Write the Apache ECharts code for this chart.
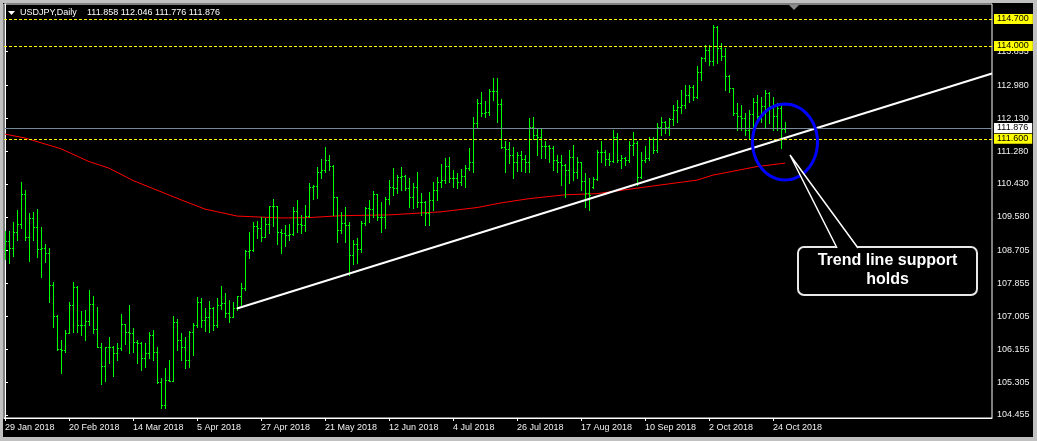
<!DOCTYPE html>
<html><head><meta charset="utf-8">
<script src="https://cdn.jsdelivr.net/npm/echarts@6/dist/echarts.min.js"></script>
<style>html,body{margin:0;padding:0;background:#000}#c{width:1037px;height:441px}</style>
</head><body><div id="c"></div>
<script>
// ---- data (USDJPY daily, 29 Jan 2018 .. 29 Oct 2018), bar index = trading day ----
const opens = [108.75,108.96,108.77,109.18,109.39,110.17,109.05,109.54,109.31,108.75,
108.77,108.65,107.81,107.01,106.16,106.13,106.58,107.30,107.76,106.77,
106.78,106.89,107.32,106.67,106.22,105.72,106.20,106.22,106.05,106.18,
106.80,106.61,106.57,106.35,106.31,105.92,106.05,106.52,106.07,105.30,
104.70,105.36,105.33,106.87,106.39,106.22,105.88,106.59,106.78,107.37,
106.91,107.00,107.21,106.77,107.30,107.36,107.10,107.00,107.23,107.52,
107.73,108.70,108.72,109.35,109.30,109.07,109.39,109.85,109.85,109.20,
109.15,109.11,109.14,109.73,109.39,109.37,109.61,110.36,110.39,110.73,
110.79,111.05,110.90,110.09,109.24,109.43,109.37,108.59,108.89,108.76,
109.43,109.82,109.77,110.16,109.58,109.58,110.03,110.36,110.32,110.62,
110.64,110.32,110.09,110.36,109.97,109.97,109.67,110.02,110.27,110.49,
110.53,110.90,110.59,110.58,110.47,110.64,110.84,111.01,112.00,112.52,
112.26,112.28,112.84,112.84,112.49,111.39,111.33,111.18,111.00,111.18,
111.07,111.01,111.90,111.70,111.65,111.40,111.40,111.37,111.05,111.01,
110.92,110.79,111.14,110.75,111.00,110.50,110.20,110.35,110.56,111.27,
111.27,111.07,111.03,111.65,111.05,111.09,111.05,111.44,111.50,110.60,
111.05,111.09,111.60,111.30,111.91,112.03,111.90,112.10,112.34,112.43,
112.47,112.73,112.95,112.69,113.34,113.68,113.90,113.62,114.50,113.95,
113.75,113.22,112.92,112.26,112.20,112.15,111.83,112.23,112.55,112.20,
112.45,112.78,112.45,112.20,112.40,111.858];
const highs = [109.21,109.21,109.44,109.76,110.47,110.28,109.69,109.70,109.78,109.31,
108.88,108.77,107.89,107.05,106.39,106.64,107.37,107.89,107.78,107.14,
107.17,107.69,107.54,107.24,106.31,106.22,106.48,106.25,106.31,107.07,
106.82,107.30,106.70,106.39,106.35,106.31,106.61,106.64,106.22,105.40,
105.66,105.88,107.02,106.94,106.57,106.48,106.62,106.83,107.50,107.47,
107.21,107.39,107.26,107.47,107.79,107.60,107.43,107.37,107.54,107.86,
108.72,109.20,109.44,109.46,109.57,109.56,109.87,110.04,109.87,109.27,
109.37,109.39,109.83,110.01,109.63,109.89,110.45,110.40,110.86,111.07,
111.38,111.18,110.92,110.10,109.71,109.84,109.45,108.98,109.02,109.48,
109.84,110.01,110.26,110.17,109.97,110.10,110.53,110.84,110.66,110.88,
110.66,110.58,110.45,110.75,110.19,110.00,110.23,110.49,110.62,110.94,
111.09,111.12,110.79,110.72,110.81,110.92,111.35,112.17,112.62,112.82,
112.58,112.90,113.16,113.16,112.62,111.54,111.52,111.39,111.27,111.28,
111.18,112.15,112.17,111.87,111.84,111.54,111.44,111.40,111.18,111.18,
110.95,111.31,111.44,111.14,111.01,110.71,110.58,110.62,111.31,111.53,
111.31,111.22,111.83,111.74,111.18,111.14,111.53,111.77,111.53,111.27,
111.40,111.65,111.65,112.00,112.17,112.06,112.15,112.47,112.60,112.86,
112.99,112.99,112.99,113.47,113.72,114.03,114.03,114.54,114.53,114.07,
113.94,113.25,112.92,112.52,112.47,112.26,112.34,112.65,112.73,112.69,
112.86,112.82,112.69,112.52,112.48,112.046];
const lows = [108.48,108.39,108.57,108.98,109.28,108.98,108.45,108.98,108.53,108.03,
108.40,107.37,106.72,106.13,105.55,106.09,106.57,106.59,106.59,106.51,
106.39,106.78,106.57,106.22,105.25,105.33,105.79,105.45,105.88,106.13,
106.29,106.05,106.07,105.79,105.62,105.70,105.92,105.88,105.27,104.63,
104.63,105.32,105.32,106.13,105.88,105.66,105.70,106.00,106.74,106.74,
106.63,106.61,106.65,106.74,107.19,107.00,106.87,107.00,107.17,107.26,
107.69,108.51,108.70,109.02,108.95,109.07,109.15,109.33,108.89,108.64,
108.83,108.98,109.10,109.18,109.15,109.22,109.58,110.03,110.06,110.59,
110.75,110.79,109.63,108.94,109.15,108.94,108.08,108.35,108.38,108.68,
109.37,109.45,109.58,109.50,109.20,109.28,109.90,110.15,110.19,110.27,
110.27,109.84,109.80,109.83,109.63,109.37,109.37,109.76,110.01,110.36,
110.45,110.49,110.36,110.32,110.40,110.34,110.79,110.75,111.90,112.19,
112.17,112.21,112.60,112.04,111.35,110.75,110.96,110.58,110.77,110.77,
110.75,110.75,111.60,111.18,111.09,111.09,111.01,110.79,110.75,110.40,
110.10,110.45,110.53,110.58,110.27,109.84,109.76,110.32,110.53,111.01,
110.92,110.92,111.01,111.01,110.84,110.92,111.01,111.18,110.40,110.58,
111.01,111.05,111.22,111.27,111.70,111.74,111.70,111.96,112.04,112.26,
112.39,112.56,112.60,112.65,113.12,113.60,113.51,113.51,113.55,113.64,
112.86,112.82,112.22,111.83,111.83,111.70,111.61,111.87,112.00,112.04,
111.91,112.00,111.83,111.83,111.37,111.776];
const closes = [108.96,108.77,109.18,109.39,110.17,109.05,109.54,109.31,108.75,108.77,
108.65,107.81,107.01,106.16,106.13,106.58,107.30,107.76,106.77,106.78,
106.89,107.32,106.67,106.22,105.72,106.20,106.22,106.05,106.18,106.80,
106.61,106.57,106.35,106.31,105.92,106.05,106.52,106.07,105.30,104.70,
105.36,105.33,106.87,106.39,106.22,105.88,106.59,106.78,107.37,106.91,
107.00,107.21,106.77,107.30,107.36,107.10,107.00,107.23,107.52,107.73,
108.70,108.72,109.35,109.30,109.07,109.39,109.85,109.85,109.20,109.15,
109.11,109.14,109.73,109.39,109.37,109.61,110.36,110.39,110.73,110.79,
111.05,110.90,110.09,109.24,109.43,109.37,108.59,108.89,108.76,109.43,
109.82,109.77,110.16,109.58,109.58,110.03,110.36,110.32,110.62,110.64,
110.32,110.09,110.36,109.97,109.97,109.67,110.02,110.27,110.49,110.53,
110.90,110.59,110.58,110.47,110.64,110.84,111.01,112.00,112.52,112.26,
112.28,112.84,112.84,112.49,111.39,111.33,111.18,111.00,111.18,111.07,
111.01,111.90,111.70,111.65,111.40,111.40,111.37,111.05,111.01,110.92,
110.79,111.14,110.75,111.00,110.50,110.20,110.15,110.56,111.27,111.27,
111.07,111.03,111.65,111.05,111.09,111.05,111.44,111.50,110.60,111.05,
111.09,111.60,111.30,111.91,112.03,111.90,112.10,112.34,112.43,112.47,
112.73,112.95,112.69,113.34,113.68,113.90,113.62,114.50,113.95,113.75,
113.22,112.92,112.26,112.20,112.15,111.83,112.23,112.55,112.20,112.45,
112.78,112.45,112.20,112.40,111.86,111.876];

// moving average (red) read at selected bars
const maIndex  = [0,5,14,21,26,32,38,44,50,58,69,76,84,96,109,118,124,131,140,148,160,173,177,188,195];
const maValues = [111.72,111.62,111.34,111.01,110.84,110.52,110.27,110.02,109.78,109.60,109.55,109.56,109.61,109.63,109.71,109.82,109.94,110.05,110.15,110.18,110.35,110.53,110.66,110.88,110.97];

// trend line (white)
const trendIndex  = [58, 246.75];
const trendValues = [107.21, 113.29];

// horizontal levels
const levelValues = [114.700, 114.000, 111.600];
const levelLabels = ['114.700', '114.000', '111.600'];
const bidValue = 111.876;
const bidLabel = '111.876';

// axis ticks
const xTickIndex  = [0,16,32,48,64,80,96,112,128,144,160,176,192];
const xTickLabels = ['29 Jan 2018','20 Feb 2018','14 Mar 2018','5 Apr 2018','27 Apr 2018','21 May 2018','12 Jun 2018','4 Jul 2018','26 Jul 2018','17 Aug 2018','10 Sep 2018','2 Oct 2018','24 Oct 2018'];
const yTickValues = [104.455,105.305,106.155,107.005,107.855,108.705,109.580,110.430,111.280,112.130,112.980,113.855];

const titleText = 'USDJPY,Daily';
const titleValues = '111.858 112.046 111.776 111.876';
const noteText = 'Trend line support\nholds';

// ---- build ----
const FONT = 'Liberation Sans';
const GREEN = '#00ff00';
const ohlc = opens.map((o, i) => [i, o, highs[i], lows[i], closes[i]]);
const ma = maIndex.map((x, k) => [x, maValues[k]]);
const trend = trendIndex.map((x, k) => [x, trendValues[k]]);

const chart = echarts.init(document.getElementById('c'), null, {renderer: 'canvas'});

function labelFor(color, text) {
  return {show: true, position: 'end', distance: 2, color: '#000', backgroundColor: color,
    padding: [1, 4, 0, 3], fontSize: 9, fontFamily: FONT, formatter: () => text};
}

const markData = levelValues.map((v, k) => ({yAxis: v, lineStyle: {color: '#ffff00', type: [3, 2], width: 1}, label: labelFor('#ffff00', levelLabels[k])}));
markData.push({yAxis: bidValue, lineStyle: {color: '#778899', type: 'solid', width: 1}, label: labelFor('#ffffff', bidLabel)});

// ellipse outline points (annotation)
const ell = [];
for (let k = 0; k < 72; k++) { const a = k / 72 * Math.PI * 2; ell.push([785 + 32.5 * Math.cos(a), 142 + 38 * Math.sin(a)]); }

function seg(x1, y1, x2, y2) {
  return {type: 'line', shape: {x1: x1, y1: y1, x2: x2, y2: y2},
    style: {stroke: GREEN, lineWidth: 1, fill: null, opacity: 1}, silent: true};
}

chart.setOption({
  animation: false,
  backgroundColor: '#000',
  grid: {left: 4, top: 4, right: 45, bottom: 23, show: true, borderColor: '#ffffff', borderWidth: 1, backgroundColor: '#000'},
  xAxis: {
    type: 'value', min: -0.25, max: 246.75, splitLine: {show: false},
    axisLine: {show: true, lineStyle: {color: '#ffffff', width: 1}},
    axisTick: {show: true, length: 3, lineStyle: {color: '#ffffff'}, customValues: xTickIndex},
    axisLabel: {show: true, customValues: xTickIndex, color: '#f0f0f0', fontSize: 9, fontFamily: FONT, align: 'left', margin: 5,
      formatter: v => xTickLabels[xTickIndex.indexOf(Math.round(v))] || ''}
  },
  yAxis: {
    type: 'value', position: 'right', min: 104.3752, max: 115.0867, scale: true, splitLine: {show: false},
    axisLine: {show: true, lineStyle: {color: '#ffffff', width: 1}},
    axisTick: {show: true, length: 3, lineStyle: {color: '#ffffff'}, customValues: yTickValues},
    axisLabel: {show: true, customValues: yTickValues, color: '#f0f0f0', fontSize: 9, fontFamily: FONT, margin: 5,
      formatter: v => v.toFixed(3)}
  },
  series: [
    {type: 'line', name: 'MA', data: ma, symbol: 'none', smooth: false, z: 2,
      lineStyle: {color: '#ff0000', width: 1}},
    {type: 'custom', name: 'USDJPY', data: ohlc, z: 3, itemStyle: {color: GREEN},
      encode: {x: 0, y: [1, 2, 3, 4]},
      renderItem: function (params, api) {
        const i = api.value(0);
        const pH = api.coord([i, api.value(2)]);
        const pL = api.coord([i, api.value(3)]);
        const pO = api.coord([i, api.value(1)]);
        const pC = api.coord([i, api.value(4)]);
        const x = Math.floor(pH[0]) + 0.5;
        const yH = Math.round(pH[1]), yL = Math.round(pL[1]) + 1;
        const yO = Math.round(pO[1]) + 0.5, yC = Math.round(pC[1]) + 0.5;
        return {type: 'group', children: [
          seg(x, yH, x, Math.max(yL, yH + 1)),
          seg(x - 1.5, yO, x - 0.5, yO),
          seg(x + 0.5, yC, x + 1.5, yC)
        ]};
      }},
    {type: 'line', name: 'Trend', data: trend, symbol: 'none', z: 4,
      lineStyle: {color: '#ffffff', width: 2},
      markLine: {silent: true, symbol: ['none', 'none'], data: markData}}
  ],
  graphic: [
    // outer frame
    {type: 'rect', shape: {x: 0, y: 0, width: 1037, height: 3}, style: {fill: '#c0c0c0'}, z: 100},
    {type: 'rect', shape: {x: 0, y: 0, width: 3, height: 441}, style: {fill: '#c0c0c0'}, z: 100},
    {type: 'rect', shape: {x: 1033, y: 0, width: 4, height: 441}, style: {fill: '#c0c0c0'}, z: 100},
    {type: 'rect', shape: {x: 0, y: 437, width: 1037, height: 4}, style: {fill: '#c0c0c0'}, z: 100},
    // header
    {type: 'polygon', shape: {points: [[8, 11], [15, 11], [11.5, 15]]}, style: {fill: '#ffffff'}, z: 100},
    {type: 'text', x: 20, y: 13, style: {text: titleText, fill: '#ffffff', font: '9px "Liberation Sans"', verticalAlign: 'middle'}, z: 100},
    {type: 'text', x: 87, y: 13, style: {text: titleValues, fill: '#ffffff', font: '9px "Liberation Sans"', verticalAlign: 'middle'}, z: 100},
    // chart shift marker
    {type: 'polygon', shape: {points: [[789, 5], [799, 5], [794, 10]]}, style: {fill: '#8a8a8a'}, z: 100},
    // blue ellipse
    {type: 'polygon', shape: {points: ell}, style: {fill: null, stroke: '#0000ff', lineWidth: 3}, z: 100},
    // callout
    {type: 'rect', shape: {x: 798, y: 247, width: 179, height: 48, r: 6}, style: {fill: '#000', stroke: '#e8e8e8', lineWidth: 2}, z: 100},
    {type: 'polygon', shape: {points: [[837, 249], [790, 155], [858, 249]]}, style: {fill: '#000'}, z: 101},
    {type: 'polyline', shape: {points: [[837, 248], [790, 155], [858, 248]]}, style: {stroke: '#ffffff', lineWidth: 1.5, fill: null}, z: 102},
    {type: 'text', x: 887.5, y: 270, style: {text: noteText, fill: '#ffffff', font: 'bold 16px "Liberation Sans"', align: 'center', verticalAlign: 'middle', lineHeight: 19}, z: 103}
  ]
});
</script>
</body></html>
